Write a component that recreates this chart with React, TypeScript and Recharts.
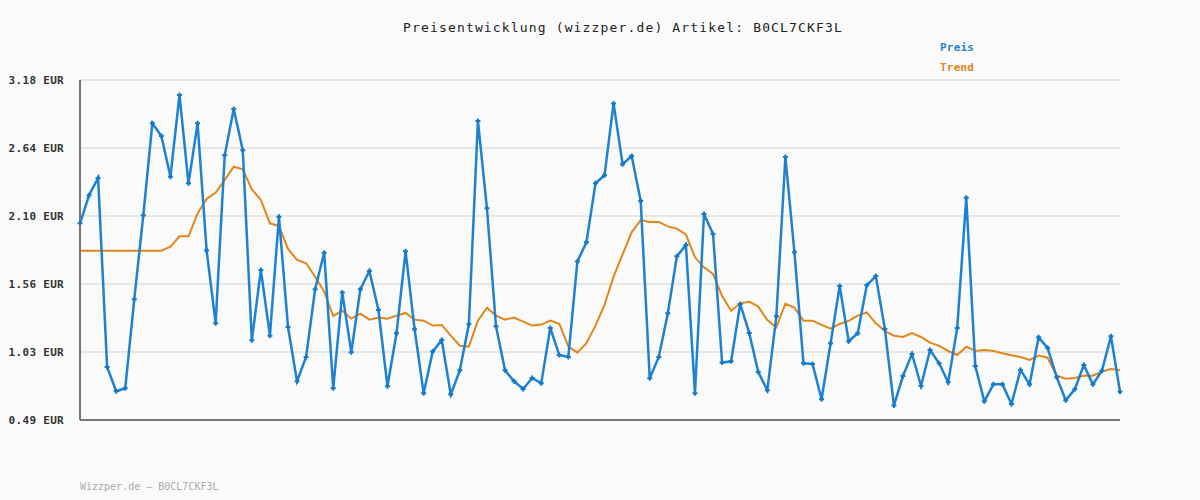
import React from 'react';
import { LineChart, Line, XAxis, YAxis, CartesianGrid } from 'recharts';

const preis = [
  2.046, 2.268, 2.405, 0.91, 0.717, 0.741, 1.445, 2.109, 2.837, 2.737,
  2.415, 3.061, 2.363, 2.837, 1.832, 1.255, 2.584, 2.951, 2.624, 1.12,
  1.677, 1.157, 2.099, 1.226, 0.796, 0.989, 1.524, 1.814, 0.741, 1.498,
  1.026, 1.524, 1.669, 1.36, 0.757, 1.176, 1.825, 1.208, 0.701, 1.031,
  1.123, 0.693, 0.883, 1.247, 2.856, 2.165, 1.231, 0.883, 0.796, 0.735,
  0.822, 0.78, 1.218, 1.004, 0.989, 1.745, 1.896, 2.363, 2.426, 2.995,
  2.513, 2.579, 2.223, 0.82, 0.989, 1.334, 1.785, 1.875, 0.701, 2.12,
  1.962, 0.944, 0.954, 1.408, 1.179, 0.87, 0.725, 1.31, 2.571, 1.817,
  0.939, 0.933, 0.654, 1.097, 1.55, 1.113, 1.176, 1.556, 1.629, 1.21,
  0.604, 0.838, 1.012, 0.759, 1.044, 0.939, 0.788, 1.218, 2.249, 0.917,
  0.638, 0.772, 0.772, 0.617, 0.886, 0.772, 1.144, 1.06, 0.828, 0.646,
  0.733, 0.925, 0.772, 0.88, 1.152, 0.714,
];

const trend = [
  1.83, 1.83, 1.83, 1.83, 1.83, 1.83, 1.83, 1.83, 1.83, 1.83,
  1.862, 1.943, 1.943, 2.125, 2.239, 2.289, 2.389, 2.494, 2.473, 2.315,
  2.231, 2.046, 2.025, 1.843, 1.756, 1.73, 1.624, 1.506, 1.313, 1.355,
  1.292, 1.332, 1.284, 1.3, 1.292, 1.316, 1.337, 1.284, 1.276, 1.237,
  1.242, 1.157, 1.078, 1.07, 1.276, 1.379, 1.316, 1.284, 1.3, 1.268,
  1.237, 1.245, 1.276, 1.252, 1.073, 1.023, 1.097, 1.237, 1.4, 1.624,
  1.801, 1.975, 2.072, 2.057, 2.057, 2.022, 2.004, 1.959, 1.777, 1.698,
  1.645, 1.471, 1.355, 1.413, 1.426, 1.387, 1.281, 1.223, 1.41, 1.379,
  1.276, 1.276, 1.242, 1.213, 1.25, 1.274, 1.316, 1.342, 1.255, 1.194,
  1.157, 1.147, 1.178, 1.147, 1.102, 1.076, 1.036, 1.004, 1.07, 1.036,
  1.044, 1.036, 1.018, 1.002, 0.989, 0.965, 1.0, 0.983, 0.841, 0.817,
  0.822, 0.841, 0.841, 0.873, 0.894, 0.886,
];

const yTicks = [0.49, 1.028, 1.566, 2.104, 2.642, 3.18];
const yLabels = ['0.49 EUR', '1.03 EUR', '1.56 EUR', '2.10 EUR', '2.64 EUR', '3.18 EUR'];

const data = preis.map((p, i) => ({ i: i + 1, preis: p, trend: trend[i] }));

const BLUE = '#1f82d0';
const ORANGE = '#e2861a';
const MONO = '"DejaVu Sans Mono", "Liberation Mono", monospace';

const PlusDot = (props: any) => {
  const { cx, cy } = props;
  if (cx == null || cy == null) return null;
  return (
    <path
      d={`M${cx - 2.5},${cy}h5M${cx},${cy - 2.5}v5`}
      stroke="#1479c8"
      strokeWidth={2}
      fill="none"
    />
  );
};

export default function App() {
  return (
    <div
      style={{
        position: 'absolute',
        left: 0,
        top: 0,
        width: 1200,
        height: 500,
        background: '#fafafa',
        fontFamily: MONO,
      }}
    >
      <div
        style={{
          position: 'absolute',
          top: 20,
          left: 0,
          width: 1246,
          textAlign: 'center',
          fontSize: 13,
          letterSpacing: 1.15,
          color: '#222',
        }}
      >
        Preisentwicklung (wizzper.de) Artikel: B0CL7CKF3L
      </div>
      <div style={{ position: 'absolute', top: 41, left: 940, fontSize: 11, fontWeight: 'bold', color: BLUE, letterSpacing: 0.2 }}>
        Preis
      </div>
      <div style={{ position: 'absolute', top: 61, left: 940, fontSize: 11, fontWeight: 'bold', color: ORANGE, letterSpacing: 0.2 }}>
        Trend
      </div>
      <div style={{ position: 'absolute', top: 481, left: 80, fontSize: 10, color: '#aaa' }}>
        Wizzper.de – B0CL7CKF3L
      </div>
      <LineChart
        width={1200}
        height={500}
        data={data}
        margin={{ top: 80, right: 80, bottom: 79, left: 0 }}
      >
        <CartesianGrid vertical={false} stroke="#e6e6e6" strokeWidth={2} />
        <XAxis
          dataKey="i"
          tick={false}
          tickLine={false}
          height={1}
          axisLine={{ stroke: '#777', strokeWidth: 2 }}
        />
        <YAxis
          width={80}
          domain={[0.49, 3.18]}
          ticks={yTicks}
          interval={0}
          tickLine={false}
          axisLine={{ stroke: '#777', strokeWidth: 2 }}
          tickMargin={10}
          tickFormatter={(v: number) => yLabels[yTicks.indexOf(v)] ?? ''}
          tick={{ fontFamily: MONO, fontSize: 11, fontWeight: 'bold', fill: '#333', letterSpacing: 0.3 }}
        />
        <Line
          type="linear"
          dataKey="trend"
          stroke={ORANGE}
          strokeWidth={2}
          dot={false}
          isAnimationActive={false}
        />
        <Line
          type="linear"
          dataKey="preis"
          stroke={BLUE}
          strokeWidth={2.5}
          dot={<PlusDot />}
          activeDot={false}
          isAnimationActive={false}
        />
      </LineChart>
    </div>
  );
}
